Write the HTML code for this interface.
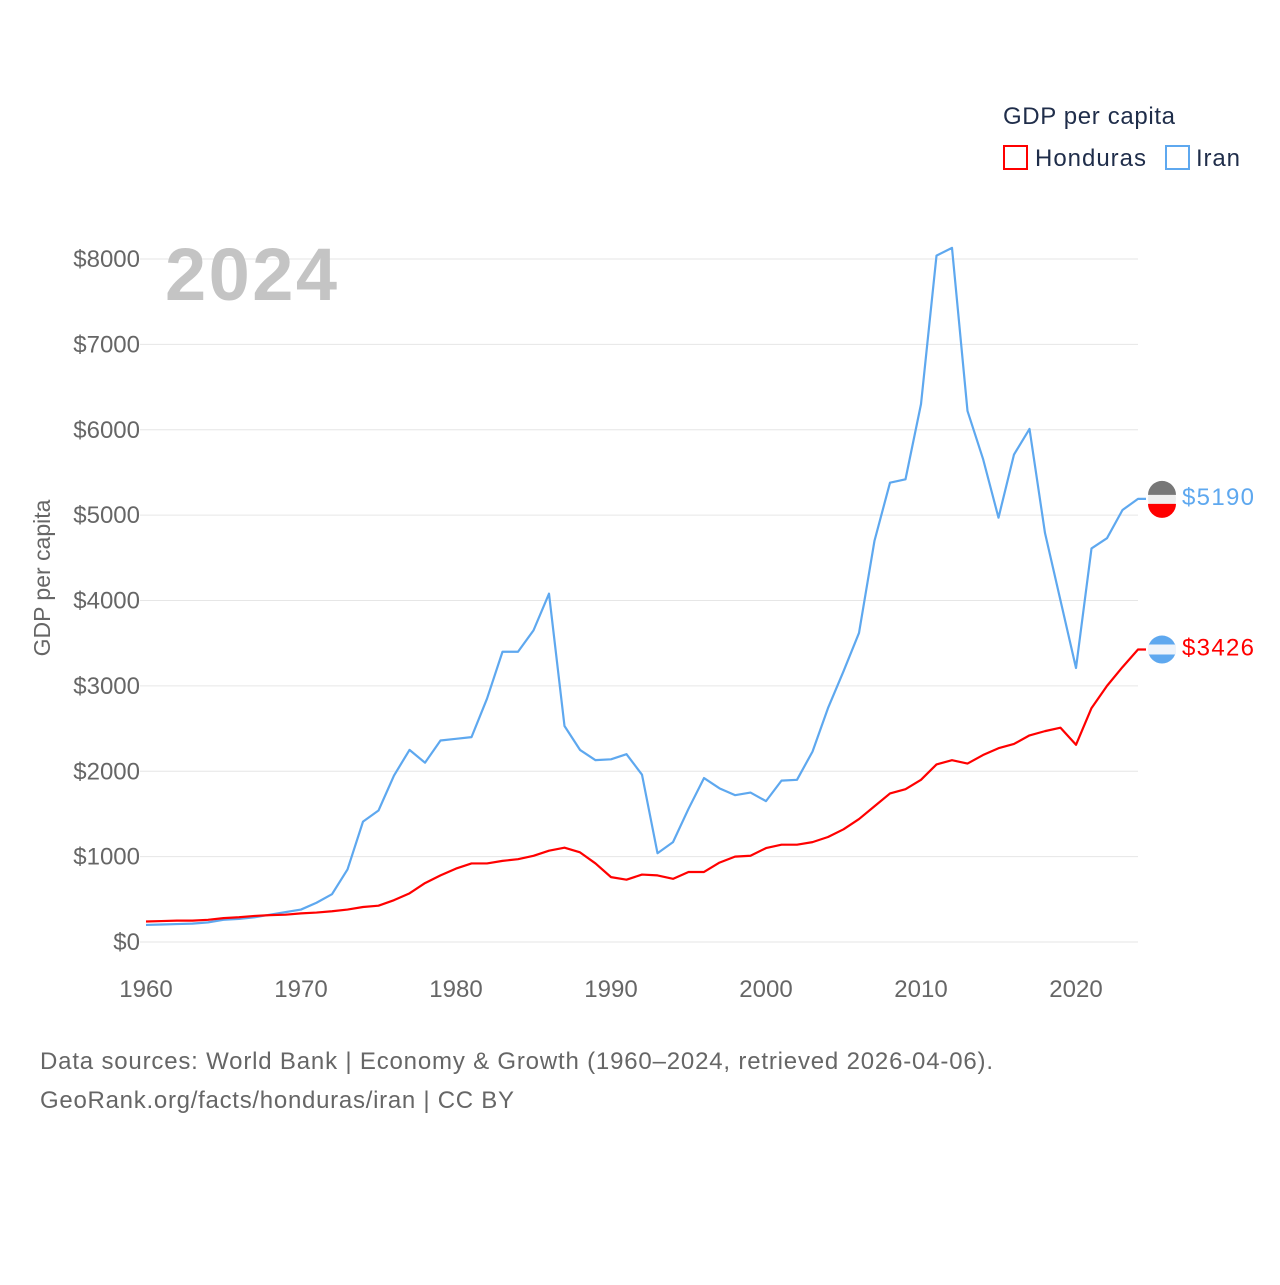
<!DOCTYPE html>
<html><head><meta charset="utf-8"><style>
body{margin:0;background:#fff;font-family:"Liberation Sans",sans-serif}
svg text{font-family:"Liberation Sans",sans-serif}
</style></head><body>
<svg id="chart" width="1280" height="1280" xmlns="http://www.w3.org/2000/svg">
<rect width="1280" height="1280" fill="#fff"/>
<g id="grid"></g>
<text x="165" y="300" font-size="74" font-weight="bold" fill="#c4c4c4" textLength="172">2024</text>
<text transform="translate(50,578) rotate(-90)" text-anchor="middle" font-size="23" fill="#666">GDP per capita</text>
<g id="series"></g>
<g>
<text x="1003" y="124" font-size="24" fill="#1f2d4a" textLength="172">GDP per capita</text>
<rect x="1004" y="146" width="23" height="23" fill="none" stroke="#ff0000" stroke-width="2"/>
<text x="1035" y="166" font-size="24" fill="#1f2d4a" textLength="111">Honduras</text>
<rect x="1166" y="146" width="23" height="23" fill="none" stroke="#5ea8ef" stroke-width="2"/>
<text x="1196" y="166" font-size="24" fill="#1f2d4a" textLength="44">Iran</text>
</g>
<text x="40" y="1069" font-size="24" fill="#666" textLength="953">Data sources: World Bank | Economy &amp; Growth (1960–2024, retrieved 2026-04-06).</text>
<text x="40" y="1108" font-size="24" fill="#666" textLength="474">GeoRank.org/facts/honduras/iran | CC BY</text>
</svg>
<script>
const years=[];for(let y=1960;y<=2024;y++)years.push(y);
const iran=[200,205,210,215,230,260,270,290,320,350,380,460,560,850,1410,1540,1950,2250,2100,2360,2380,2400,2850,3400,3400,3650,4080,2530,2250,2130,2140,2200,1960,1040,1170,1560,1920,1800,1720,1750,1650,1890,1900,2230,2740,3170,3620,4700,5380,5420,6300,8040,8130,6220,5660,4970,5710,6010,4790,4000,3210,4610,4730,5060,5190];
const honduras=[240,245,250,250,260,280,290,305,315,320,335,345,360,380,410,425,490,570,690,780,860,920,920,950,970,1010,1070,1105,1050,920,760,730,790,780,740,820,820,930,1000,1010,1100,1140,1140,1170,1230,1320,1440,1590,1740,1790,1900,2080,2130,2090,2190,2270,2320,2420,2470,2510,2310,2740,3000,3220,3426];
const yTicks=[0,1000,2000,3000,4000,5000,6000,7000,8000];
const xTicks=[1960,1970,1980,1990,2000,2010,2020];
const NS="http://www.w3.org/2000/svg";
const X=y=>146+(y-1960)*15.5;
const Y=v=>942-v*0.085375;
function mk(tag,at,parent){const e=document.createElementNS(NS,tag);for(const k in at)e.setAttribute(k,at[k]);parent.appendChild(e);return e;}
const grid=document.getElementById('grid');
yTicks.forEach(t=>{
 const l=mk('line',{x1:140,x2:1138,y1:Y(t),y2:Y(t),stroke:'#e6e6e6','stroke-width':1},grid);
 
 
 const tx=mk('text',{x:140,y:Y(t)+8,'text-anchor':'end','font-size':24,fill:'#666'},grid);
 tx.textContent='$'+t;
 
 
});
xTicks.forEach(t=>{
 const tx=mk('text',{x:X(t),y:997,'text-anchor':'middle','font-size':24,fill:'#666'},grid);
 tx.textContent=t;
 
 
});
const s=document.getElementById('series');
function line(vals,color,name){
 const last=vals[vals.length-1];
 const pts=vals.map((v,i)=>X(years[i])+','+Y(v));
 pts.push('1146,'+Y(last));
 const p=mk('polyline',{points:pts.join(' '),fill:'none',stroke:color,'stroke-width':2.2,'stroke-linejoin':'round'},s);
 
 
 const c=mk('circle',{cx:1162,cy:Y(last),r:14,fill:name==='iran'?'#eee':'#5ea8ef'},s);
 
 
 if(name==='iran'){mk('path',{d:`M1148 ${Y(last)-4} A14 14 0 0 1 1176 ${Y(last)-4} Z`,fill:'#777'},s);mk('path',{d:`M1148 ${Y(last)+5} A14 14 0 0 0 1176 ${Y(last)+5} Z`,fill:'#f00'},s);}
 else{mk('rect',{x:1148,y:Y(last)-5,width:28,height:10,fill:'#eef4fb'},s);}
 const t=mk('text',{x:1182,y:Y(last)+6,'font-size':24,fill:color,textLength:72},s);
 t.textContent='$'+last;
 
 
}
line(iran,'#5ea8ef','iran');
line(honduras,'#ff0000','honduras');
</script>
</body></html>
